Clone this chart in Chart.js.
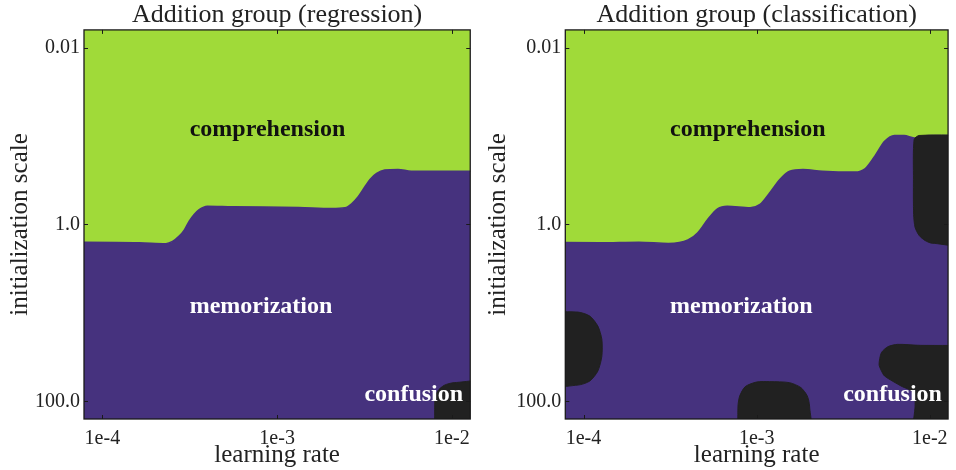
<!DOCTYPE html>
<html><head><meta charset="utf-8">
<script src="https://cdn.jsdelivr.net/npm/chart.js@4"></script>
<style>
html,body{margin:0;padding:0;background:#fff;width:956px;height:470px;overflow:hidden}
.box{position:absolute;top:0;width:478px;height:470px}
</style></head><body>
<div class="box" style="left:0"><canvas id="c1"></canvas></div>
<div class="box" style="left:478px"><canvas id="c2"></canvas></div>
<script>
// ---------- data ----------
const xTicks = [1e-4, 1e-3, 1e-2];
const xTickLabels = ['1e-4', '1e-3', '1e-2'];
const yTicks = [0.01, 1, 100];
const yTickLabels = ['0.01', '1.0', '100.0'];
const panelTitles = ['Addition group (regression)', 'Addition group (classification)'];
const xTitle = 'learning rate';
const yTitle = 'initialization scale';
const phaseNames = ['comprehension', 'memorization', 'confusion'];
const phaseLabelLR = [3.16e-4, 3.16e-4, 3.16e-3];
const phaseLabelScale = [0.1, 10, 100];

// regression: comprehension / memorization boundary
const regBoundaryLR = [5e-5, 1.63e-4, 2.31e-4, 2.52e-4, 2.75e-4, 2.94e-4, 3.14e-4, 3.35e-4, 3.58e-4, 3.99e-4, 5.53e-4, 1.33e-3, 2.05e-3, 2.45e-3, 2.67e-3, 2.91e-3, 3.18e-3, 3.40e-3, 3.71e-3, 4.13e-3, 4.92e-3, 5.86e-3, 2e-2];
const regBoundaryScale = [1.585, 1.61, 1.65, 1.556, 1.355, 1.159, 0.918, 0.771, 0.678, 0.621, 0.631, 0.643, 0.659, 0.647, 0.583, 0.486, 0.375, 0.310, 0.265, 0.243, 0.239, 0.25, 0.25];
// regression: confusion region
const regConfusionLR = [8.0e-3, 8.0e-3, 8.29e-3, 9.05e-3, 1.03e-2, 2e-2, 2e-2, 8.0e-3];
const regConfusionScale = [300, 94.9, 76.6, 65.9, 61.5, 61.5, 300, 300];

// classification: comprehension / memorization boundary
const clsBoundaryLR = [5e-5, 1.24e-4, 2.09e-4, 3.09e-4, 4.01e-4, 4.57e-4, 5.21e-4, 5.94e-4, 6.76e-4, 9.18e-4, 1.045e-3, 1.19e-3, 1.36e-3, 1.55e-3, 1.85e-3, 2.39e-3, 3.70e-3, 4.22e-3, 4.81e-3, 5.48e-3, 6.24e-3, 7.11e-3, 8.11e-3, 9.86e-3, 2e-2];
const clsBoundaryScale = [1.585, 1.61, 1.585, 1.64, 1.50, 1.24, 0.879, 0.665, 0.621, 0.647, 0.594, 0.439, 0.310, 0.25, 0.239, 0.25, 0.256, 0.235, 0.169, 0.115, 0.0986, 0.0986, 0.105, 0.0986, 0.0986];
// classification: confusion regions
const clsConfusionA_LR = [2e-2, 8.67e-3, 8.11e-3, 8.04e-3, 8.06e-3, 8.22e-3, 8.67e-3, 9.37e-3, 1.026e-2, 2e-2, 2e-2];
const clsConfusionA_Scale = [0.0986, 0.0986, 0.110, 0.310, 0.771, 1.081, 1.331, 1.516, 1.627, 1.64, 0.0986];
const clsConfusionB_LR = [5e-5, 9.29e-5, 1.087e-4, 1.21e-4, 1.276e-4, 1.276e-4, 1.21e-4, 1.087e-4, 9.29e-5, 5e-5, 5e-5];
const clsConfusionB_Scale = [9.8, 9.8, 10.87, 14.1, 19.9, 31.0, 45.5, 59.0, 65.5, 65.5, 9.8];
const clsConfusionC_LR = [7.80e-4, 7.80e-4, 7.98e-4, 8.59e-4, 1.0e-3, 1.19e-3, 1.545e-3, 1.80e-3, 1.96e-3, 2.02e-3, 2.02e-3, 7.80e-4];
const clsConfusionC_Scale = [300, 113, 87.1, 68.2, 60.5, 59.9, 61.5, 70.0, 87.1, 113, 300, 300];
const clsConfusionD_LR = [2e-2, 8.85e-3, 6.52e-3, 5.73e-3, 5.25e-3, 5.09e-3, 5.23e-3, 5.48e-3, 6.82e-3, 8.11e-3, 8.22e-3, 8.22e-3, 2e-2, 2e-2];
const clsConfusionD_Scale = [23.3, 23.3, 22.7, 24.1, 28.2, 38.2, 44.5, 51.8, 67.1, 79.8, 108, 300, 300, 23.3];

// ---------- style ----------
const X_MIN = 7.85e-5, X_MAX = 1.274e-2;
const Y_MIN = 6.31e-3, Y_MAX = 158.5;
const GREEN = '#a0da39', PURPLE = '#46327e', DARK = '#212121';
const SERIF = '"Liberation Serif", "Times New Roman", serif';
const TXT = '#222';
const labelColors = ['#111111', '#ffffff', '#ffffff'];

const pts = (xs, ys) => xs.map((v, i) => ({x: v, y: ys[i]}));
function region(xs, ys, color, fillTo, bw) {
  return {data: pts(xs, ys), showLine: true, borderWidth: bw, borderColor: bw ? color : 'rgba(0,0,0,0)',
    backgroundColor: color, pointRadius: 0, fill: {value: fillTo},
    cubicInterpolationMode: 'monotone', tension: 0.4};
}
function blob(xs, ys) {
  return {data: pts(xs, ys), showLine: true, borderWidth: 1, borderColor: DARK,
    backgroundColor: DARK, pointRadius: 0, fill: 'shape', tension: 0.25, capBezierPoints: false};
}

const framePlugin = {
  id: 'frame',
  afterDatasetsDraw(chart) {
    const {ctx, chartArea: a, scales: {x, y}} = chart;
    ctx.save();
    // phase labels
    ctx.font = 'bold 24px ' + SERIF;
    ctx.textAlign = 'left';
    ctx.textBaseline = 'alphabetic';
    phaseNames.forEach((t, i) => {
      ctx.fillStyle = labelColors[i];
      ctx.fillText(t, x.getPixelForValue(phaseLabelLR[i]), y.getPixelForValue(phaseLabelScale[i]));
    });
    // frame
    ctx.strokeStyle = '#1a1a1a';
    ctx.lineWidth = 1.3;
    ctx.strokeRect(a.left, a.top, a.right - a.left, a.bottom - a.top);
    ctx.lineWidth = 1;
    const L = 4;
    ctx.beginPath();
    xTicks.forEach(v => {
      const p = Math.round(x.getPixelForValue(v)) + 0.5;
      ctx.moveTo(p, a.bottom); ctx.lineTo(p, a.bottom - L);
      ctx.moveTo(p, a.top); ctx.lineTo(p, a.top + L);
    });
    yTicks.forEach(v => {
      const p = Math.round(y.getPixelForValue(v)) + 0.5;
      ctx.moveTo(a.left, p); ctx.lineTo(a.left + L, p);
      ctx.moveTo(a.right, p); ctx.lineTo(a.right - L, p);
    });
    ctx.stroke();
    ctx.restore();
  }
};

function makeChart(id, title, datasets, yWidth, padRight) {
  return new Chart(document.getElementById(id), {
    type: 'scatter',
    data: {datasets},
    options: {
      responsive: true, maintainAspectRatio: false, animation: false,
      layout: {padding: {left: 0, right: padRight, top: 0, bottom: 0}},
      plugins: {
        legend: {display: false}, tooltip: {enabled: false},
        title: {display: true, fullSize: false, text: title, color: TXT,
          font: {family: SERIF, size: 26, weight: 'normal', lineHeight: 1.15}, padding: {top: 0, bottom: 0}}
      },
      scales: {
        x: {type: 'logarithmic', min: X_MIN, max: X_MAX, bounds: 'data',
          grid: {display: false, drawTicks: false}, border: {display: false},
          afterBuildTicks: s => { s.ticks = xTicks.map(v => ({value: v})); },
          ticks: {autoSkip: false, maxRotation: 0, padding: 8, color: TXT,
            font: {family: SERIF, size: 20}, callback: (v, i) => xTickLabels[i]},
          title: {display: true, text: xTitle, color: TXT, font: {family: SERIF, size: 25}, padding: {top: 0, bottom: 0}},
          afterFit: s => { s.height = 51; }},
        y: {type: 'logarithmic', reverse: true, min: Y_MIN, max: Y_MAX, bounds: 'data',
          grid: {display: false, drawTicks: false}, border: {display: false},
          afterBuildTicks: s => { s.ticks = yTicks.map(v => ({value: v})); },
          ticks: {autoSkip: false, padding: 4, color: TXT,
            font: {family: SERIF, size: 20}, callback: (v, i) => yTickLabels[i]},
          title: {display: true, text: yTitle, color: TXT, font: {family: SERIF, size: 25}, padding: {top: 5, bottom: 0}},
          afterFit: s => { s.width = yWidth; }}
      }
    },
    plugins: [framePlugin]
  });
}

makeChart('c1', panelTitles[0], [
  blob(regConfusionLR, regConfusionScale),
  region(regBoundaryLR, regBoundaryScale, PURPLE, 1e3, 1.5),
  region(regBoundaryLR, regBoundaryScale, GREEN, 1e-3, 0)
], 84, 5.3);

makeChart('c2', panelTitles[1], [
  blob(clsConfusionA_LR, clsConfusionA_Scale),
  blob(clsConfusionB_LR, clsConfusionB_Scale),
  blob(clsConfusionC_LR, clsConfusionC_Scale),
  blob(clsConfusionD_LR, clsConfusionD_Scale),
  region(clsBoundaryLR, clsBoundaryScale, PURPLE, 1e3, 1.5),
  region(clsBoundaryLR, clsBoundaryScale, GREEN, 1e-3, 0)
], 87.3, 1.3);
</script>
</body></html>
